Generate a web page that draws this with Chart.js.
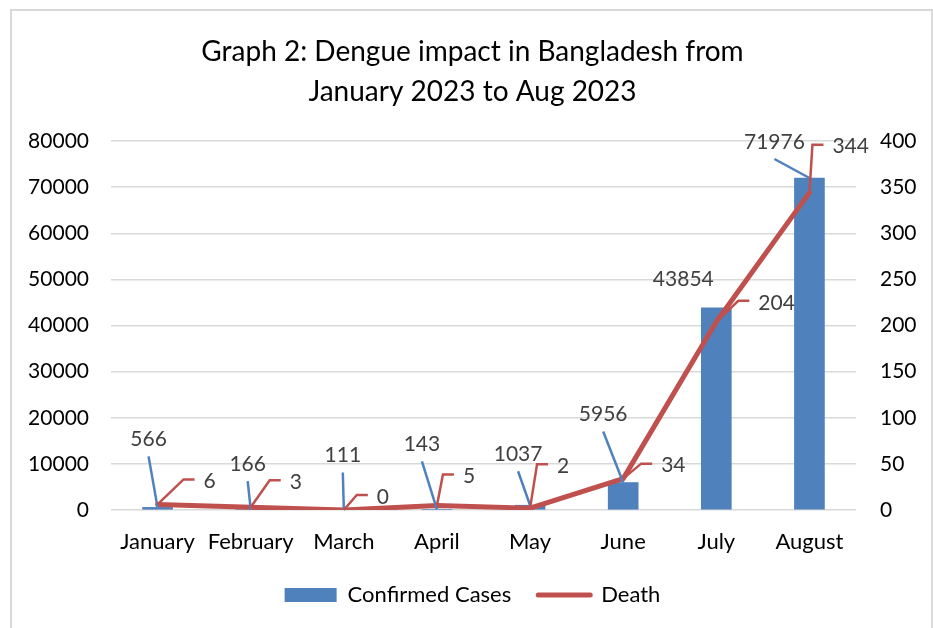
<!DOCTYPE html>
<html>
<head>
<meta charset="utf-8">
<title>Dengue impact in Bangladesh 2023</title>
<script src="https://cdn.jsdelivr.net/npm/chart.js@4/dist/chart.umd.min.js"></script>
<style>
  html, body { margin: 0; padding: 0; background: #fff; }
  canvas { display: block; }
</style>
</head>
<body>
<canvas id="chart" width="933" height="628"></canvas>
<script>
// Monthly dengue figures, Bangladesh 2023
const months = ['January', 'February', 'March', 'April', 'May', 'June', 'July', 'August'];
const confirmedCases = [566, 166, 111, 143, 1037, 5956, 43854, 71976];
const deaths = [6, 3, 0, 5, 2, 34, 204, 344];

// Axis settings
const casesAxisMax = 80000;
const casesAxisStep = 10000;
const deathAxisMax = 400;
const deathAxisStep = 50;

// Where each value label sits relative to its mark (dx, dy in px)
const caseLabelOffsets = [[-9, -68], [-3, -45], [-1, -54], [-15, -65], [-12, -51], [-20, -68], [-33, -28], [-35, -36]];
const caseLeaderShown = [true, true, true, true, true, true, false, true];
const deathLabelOffsets = [[46, -23], [39, -25], [33, -13], [26, -29], [27, -42], [38, -13], [42, -19], [23, -46]];

const BLUE = '#4F81BD';
const RED = '#C0504D';
const FONT = 'Lato, "Open Sans", sans-serif';

// White background plus the light frame around the chart
const framePlugin = {
  id: 'frame',
  beforeDraw(chart) {
    const ctx = chart.ctx;
    ctx.save();
    ctx.fillStyle = '#fff';
    ctx.fillRect(0, 0, chart.width, chart.height);
    ctx.strokeStyle = '#d9d9d9';
    ctx.lineWidth = 2;
    ctx.strokeRect(11, 10, 921, 640);
    ctx.restore();
  }
};

// Value labels with leader lines
const valueLabelPlugin = {
  id: 'valueLabels',
  afterDatasetsDraw(chart) {
    const ctx = chart.ctx;
    ctx.save();
    ctx.font = '21px ' + FONT;
    ctx.fillStyle = '#404040';
    ctx.lineWidth = 2.5;
    ctx.lineJoin = 'miter';

    // cases (bars)
    const barMeta = chart.getDatasetMeta(0);
    barMeta.data.forEach((el, i) => {
      const [dx, dy] = caseLabelOffsets[i];
      const tx = el.x + dx, ty = el.y + dy;
      if (caseLeaderShown[i]) {
        ctx.strokeStyle = BLUE;
        ctx.beginPath();
        ctx.moveTo(tx, ty + 17);
        ctx.lineTo(el.x, el.y);
        ctx.stroke();
      }
      ctx.textAlign = 'center';
      ctx.textBaseline = 'middle';
      ctx.fillText(String(confirmedCases[i]), tx, ty);
    });

    // deaths (line)
    const lineMeta = chart.getDatasetMeta(1);
    lineMeta.data.forEach((el, i) => {
      const [dx, dy] = deathLabelOffsets[i];
      const tx = el.x + dx, ty = el.y + dy;
      ctx.strokeStyle = RED;
      ctx.beginPath();
      ctx.moveTo(el.x, el.y);
      ctx.lineTo(tx - 20, ty - 2);
      ctx.lineTo(tx - 9, ty - 2);
      ctx.stroke();
      ctx.textAlign = 'left';
      ctx.textBaseline = 'middle';
      ctx.fillText(String(deaths[i]), tx, ty);
    });
    ctx.restore();
  }
};

new Chart(document.getElementById('chart'), {
  data: {
    labels: months,
    datasets: [
      {
        type: 'bar',
        label: 'Confirmed Cases',
        data: confirmedCases,
        backgroundColor: BLUE,
        borderWidth: 0,
        barThickness: 30,
        yAxisID: 'y',
        order: 2
      },
      {
        type: 'line',
        label: 'Death',
        data: deaths,
        borderColor: RED,
        backgroundColor: RED,
        borderWidth: 5,
        borderCapStyle: 'round',
        borderJoinStyle: 'round',
        pointRadius: 0,
        pointHoverRadius: 0,
        tension: 0,
        yAxisID: 'y1',
        order: 1
      }
    ]
  },
  options: {
    responsive: false,
    animation: false,
    devicePixelRatio: 1,
    layout: { padding: { left: 12, right: 0, top: 0, bottom: 12 } },
    plugins: {
      tooltip: { enabled: false },
      title: {
        display: true,
        text: ['Graph 2: Dengue impact in Bangladesh from', 'January 2023 to Aug 2023'],
        color: '#000',
        font: { family: FONT, size: 28, weight: 'normal', lineHeight: 40 / 28 },
        padding: { top: 32, bottom: 29 }
      },
      legend: {
        position: 'bottom',
        labels: {
          color: '#000',
          font: { family: FONT, size: 22 },
          usePointStyle: true,
          pointStyleWidth: 52,
          boxHeight: 14,
          padding: 27,
          sort: (a, b) => a.datasetIndex - b.datasetIndex,
          generateLabels(chart) {
            const items = Chart.defaults.plugins.legend.labels.generateLabels(chart);
            items.forEach(it => {
              it.pointStyle = it.datasetIndex === 0 ? 'rect' : 'line';
              if (it.datasetIndex === 1) { it.strokeStyle = RED; it.lineWidth = 5; it.lineCap = 'round'; }
            });
            return items;
          }
        }
      }
    },
    scales: {
      x: {
        grid: { display: false, drawTicks: false },
        border: { display: false },
        ticks: { color: '#000', font: { family: FONT, size: 22 }, padding: 19, maxRotation: 0 },
        afterFit(s) { s.height = 47; }
      },
      y: {
        position: 'left',
        min: 0,
        max: casesAxisMax,
        grid: { color: '#d9d9d9', lineWidth: 1.5, drawTicks: false },
        border: { display: false },
        ticks: {
          stepSize: casesAxisStep,
          color: '#000',
          font: { family: FONT, size: 21 },
          padding: 22,
          callback: v => String(v)
        },
        afterFit(s) { s.width = 99; }
      },
      y1: {
        position: 'right',
        min: 0,
        max: deathAxisMax,
        grid: { display: false, drawTicks: false },
        border: { display: false },
        ticks: {
          stepSize: deathAxisStep,
          color: '#000',
          font: { family: FONT, size: 21 },
          padding: 24,
          callback: v => String(v)
        },
        afterFit(s) { s.width = 77; }
      }
    }
  },
  plugins: [framePlugin, valueLabelPlugin]
});
</script>
</body>
</html>
